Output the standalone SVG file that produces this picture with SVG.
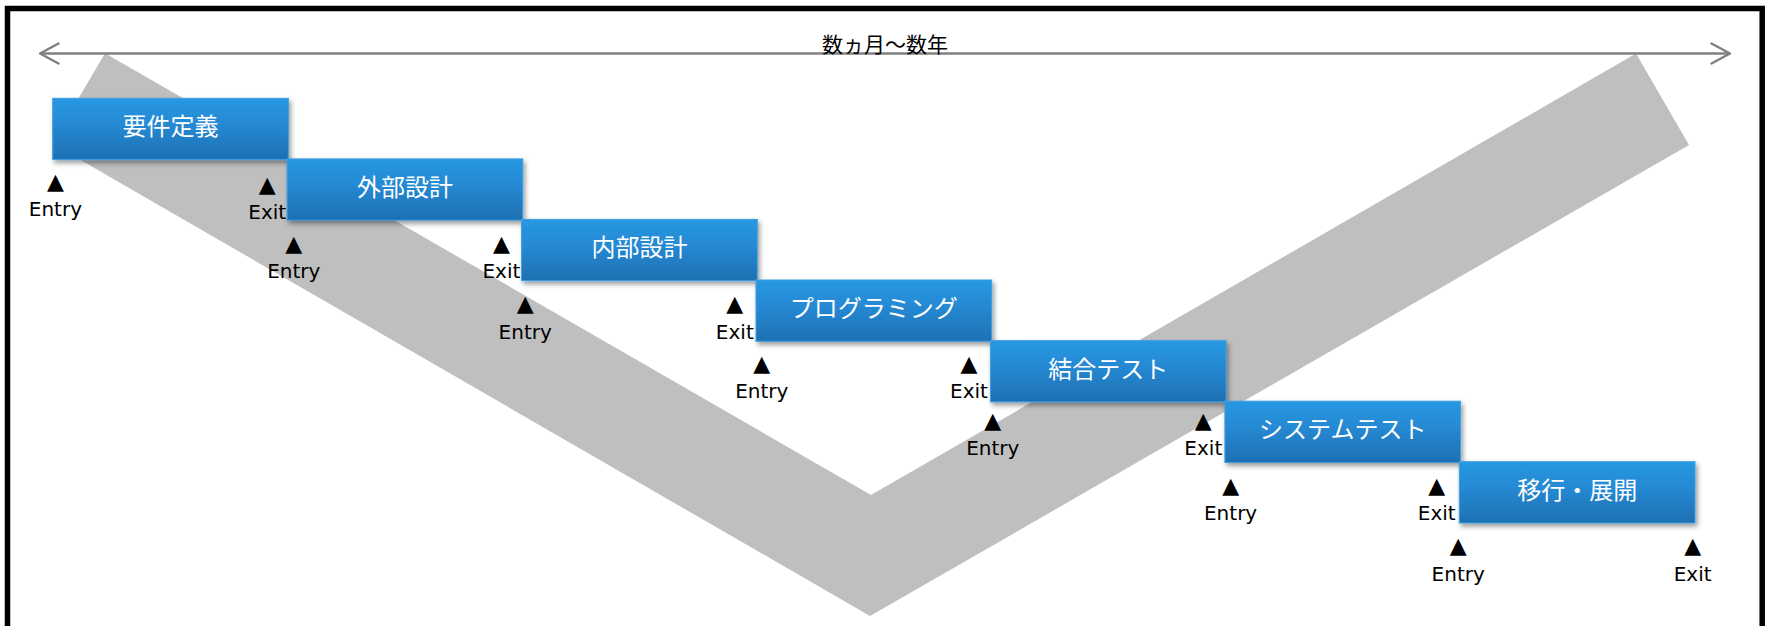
<svg xmlns="http://www.w3.org/2000/svg" width="1767" height="626" viewBox="0 0 1767 626">
<style>
.box{fill:url(#boxGrad);stroke:#3f9fe4;stroke-width:1;filter:url(#shadow)}
.lbl{font-family:"Noto Sans CJK JP","Noto Sans",sans-serif;font-size:24px;fill:#ffffff;text-anchor:middle}
.mk{font-family:"DejaVu Sans",sans-serif;font-size:20px;fill:#000000;text-anchor:middle}
.tri{font-family:"DejaVu Sans",sans-serif;font-size:22px;fill:#000000;text-anchor:middle}
.title{font-family:"Noto Sans CJK JP","Noto Sans",sans-serif;font-size:21px;fill:#000000;text-anchor:middle}
.band{fill:#bfbfbf}
.span{stroke:#808080;stroke-width:2.5;fill:none}
</style>
<defs>
<linearGradient id="boxGrad" x1="0" y1="0" x2="0" y2="1">
<stop offset="0" stop-color="#2898e2"/>
<stop offset="0.45" stop-color="#2588d2"/>
<stop offset="1" stop-color="#1e70b1"/>
</linearGradient>
<filter id="shadow" x="-5%" y="-10%" width="115%" height="140%">
<feDropShadow dx="2" dy="3" stdDeviation="2.5" flood-color="#000000" flood-opacity="0.4"/>
</filter>
<marker id="openArrow" markerUnits="userSpaceOnUse" markerWidth="26" markerHeight="26" viewBox="-22 -13 26 26" refX="0" refY="0" orient="auto-start-reverse">
<path d="M-18.5,-10 L0,0 L-18.5,10" fill="none" stroke="#808080" stroke-width="2.5" stroke-linecap="round" stroke-linejoin="round"/>
</marker>
</defs>
<rect x="0" y="0" width="1767" height="626" fill="#ffffff"/>
<rect x="7.5" y="8.5" width="1754.7" height="700" fill="none" stroke="#000000" stroke-width="5.5"/>
<polygon class="band" points="105,53.3 871,495 1636,53.5 1689,145 870,616 52,143.5"/>
<g id="connectors">
<line class="span" x1="40" y1="53.5" x2="1730" y2="53.5" marker-start="url(#openArrow)" marker-end="url(#openArrow)"/>
</g>
<text class="title" x="885" y="51.5">数ヵ月～数年</text>
<g id="node-youken">
<rect class="box" x="52.7" y="98.3" width="235.7" height="61.3"/>
<text class="lbl" x="170.55" y="135.3">要件定義</text>
</g>
<g id="node-gaibu">
<rect class="box" x="287.1" y="158.9" width="235.7" height="61.3"/>
<text class="lbl" x="404.95" y="195.9">外部設計</text>
</g>
<g id="node-naibu">
<rect class="box" x="521.6" y="219.4" width="235.7" height="61.3"/>
<text class="lbl" x="639.45" y="256.4">内部設計</text>
</g>
<g id="node-programming">
<rect class="box" x="756" y="280" width="235.7" height="61.3"/>
<text class="lbl" x="873.85" y="317">プログラミング</text>
</g>
<g id="node-ketsugou">
<rect class="box" x="990.4" y="340.6" width="235.7" height="61.3"/>
<text class="lbl" x="1108.25" y="377.6">結合テスト</text>
</g>
<g id="node-system">
<rect class="box" x="1224.9" y="401.2" width="235.7" height="61.3"/>
<text class="lbl" x="1342.75" y="438.2">システムテスト</text>
</g>
<g id="node-ikou">
<rect class="box" x="1459.3" y="461.7" width="235.7" height="61.3"/>
<text class="lbl" x="1577.15" y="498.7">移行・展開</text>
</g>
<g id="entry-1"><text class="tri" x="55.4" y="189">▲</text><text class="mk" x="55.4" y="216.3">Entry</text></g>
<g id="exit-1"><text class="tri" x="267.2" y="191.5">▲</text><text class="mk" x="267.2" y="218.8">Exit</text></g>
<g id="entry-2"><text class="tri" x="293.8" y="250.7">▲</text><text class="mk" x="293.8" y="278">Entry</text></g>
<g id="exit-2"><text class="tri" x="501.4" y="251">▲</text><text class="mk" x="501.4" y="278.3">Exit</text></g>
<g id="entry-3"><text class="tri" x="525.2" y="311.4">▲</text><text class="mk" x="525.2" y="338.7">Entry</text></g>
<g id="exit-3"><text class="tri" x="734.8" y="311.4">▲</text><text class="mk" x="734.8" y="338.7">Exit</text></g>
<g id="entry-4"><text class="tri" x="761.8" y="371">▲</text><text class="mk" x="761.8" y="398.3">Entry</text></g>
<g id="exit-4"><text class="tri" x="969" y="371">▲</text><text class="mk" x="969" y="398.3">Exit</text></g>
<g id="entry-5"><text class="tri" x="992.8" y="427.7">▲</text><text class="mk" x="992.8" y="455">Entry</text></g>
<g id="exit-5"><text class="tri" x="1203.3" y="427.7">▲</text><text class="mk" x="1203.3" y="455">Exit</text></g>
<g id="entry-6"><text class="tri" x="1230.6" y="492.7">▲</text><text class="mk" x="1230.6" y="520">Entry</text></g>
<g id="exit-6"><text class="tri" x="1436.7" y="493">▲</text><text class="mk" x="1436.7" y="520.3">Exit</text></g>
<g id="entry-7"><text class="tri" x="1458.2" y="553.3">▲</text><text class="mk" x="1458.2" y="580.6">Entry</text></g>
<g id="exit-7"><text class="tri" x="1692.6" y="553.3">▲</text><text class="mk" x="1692.6" y="580.6">Exit</text></g>
</svg>
